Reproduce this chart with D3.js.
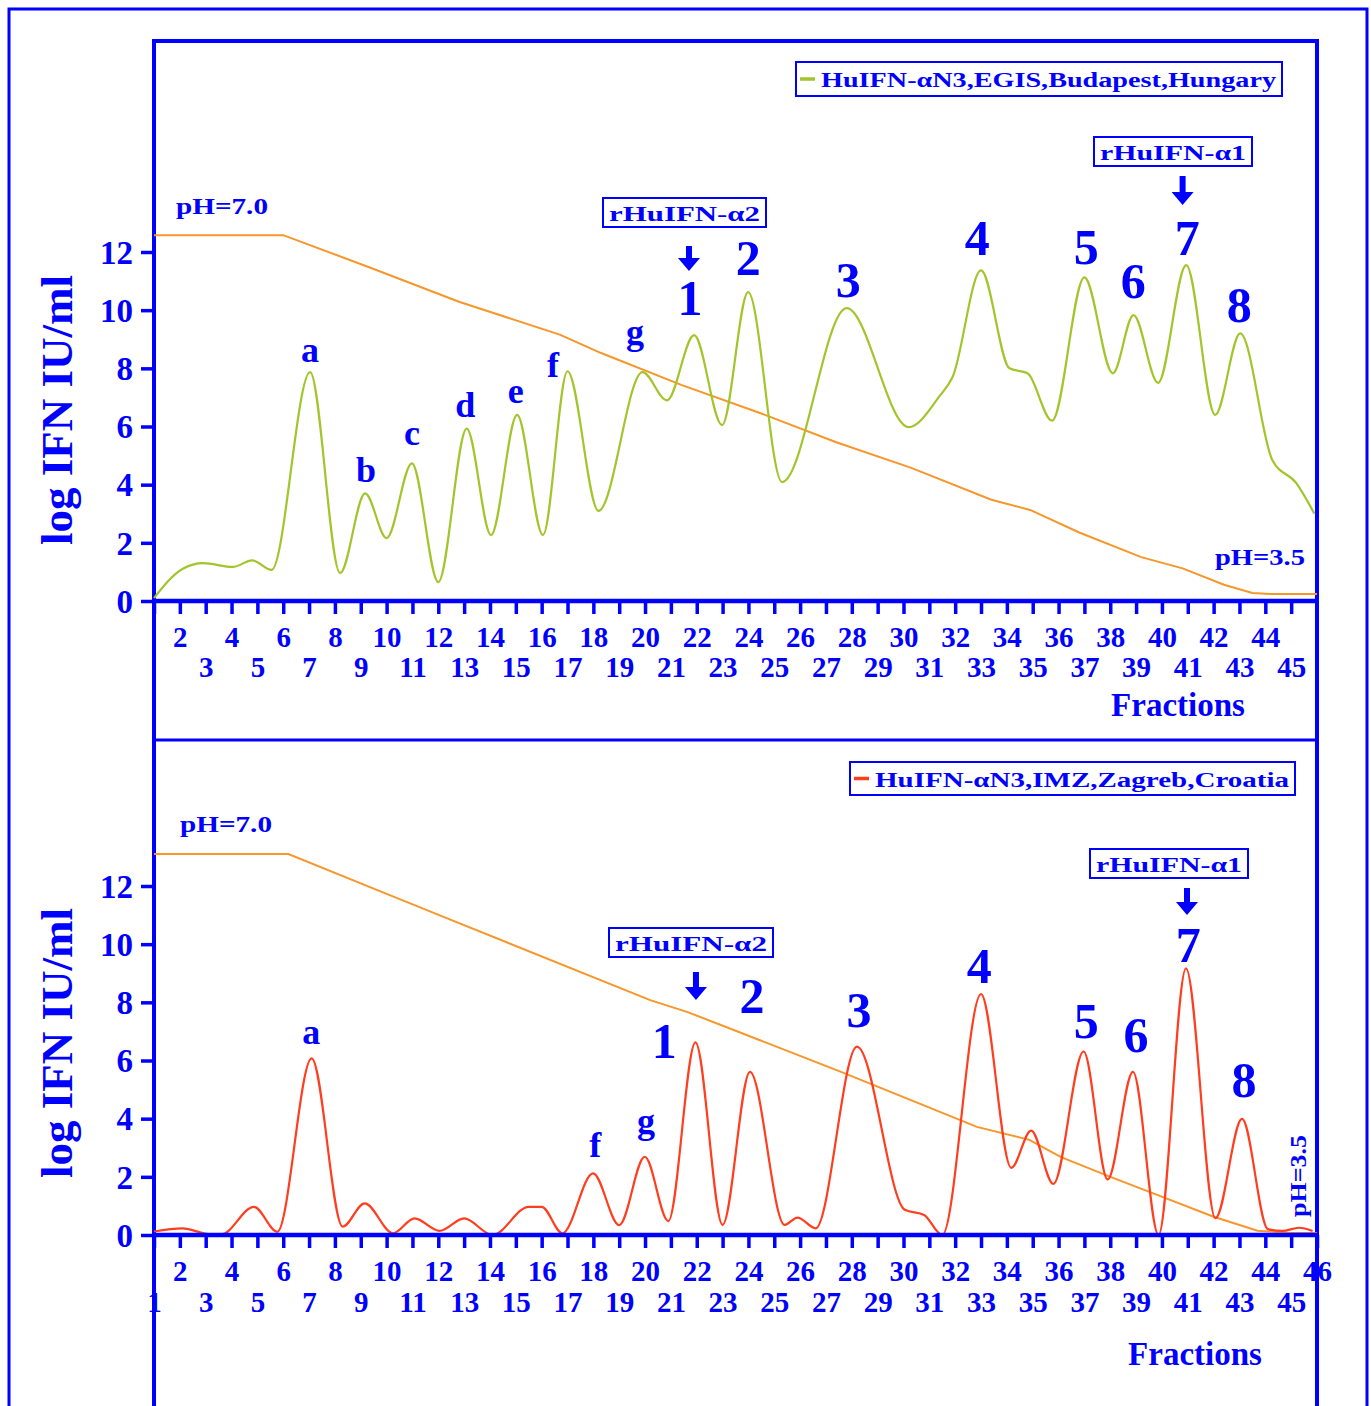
<!DOCTYPE html>
<html>
<head>
<meta charset="utf-8">
<script src="https://cdn.jsdelivr.net/npm/d3@7"></script>
<style>
  body { margin: 0; background: #fff; }
  text { font-family: "Liberation Serif", "Times New Roman", serif; font-weight: bold; fill: #0000ff; }
</style>
</head>
<body>
<div id="chart"></div>
<script>
// ---- data ----
// upper panel: HuIFN-aN3, EGIS
var topFrac = [1, 2.1, 2.9, 4.05, 4.8, 5.55, 7.04, 8.2, 9.17, 10.0, 10.98, 12.0, 13.1, 14.04, 15.05,
  16.05, 17.0, 18.2, 19.9, 20.85, 21.9, 22.98, 23.99, 25.3, 27.8, 30.2, 31.4, 31.9, 33.0, 34.1,
  34.8, 35.75, 37.0, 38.1, 38.9, 39.85, 40.94, 42.06, 43.03, 44.27, 45.2, 45.9];
var topIfn = [0.1, 1.1, 1.3, 1.17, 1.4, 1.07, 7.87, 0.96, 3.7, 2.16, 4.73, 0.65, 5.93, 2.27, 6.4,
  2.27, 7.9, 3.1, 7.87, 6.9, 9.14, 6.05, 10.62, 4.09, 10.07, 5.98, 7.05, 7.7, 11.37, 8.0,
  7.83, 6.2, 11.13, 7.83, 9.83, 7.5, 11.55, 6.4, 9.2, 4.85, 4.05, 3.0];
var topPhFrac = [1, 6, 9.4, 12.8, 16.7, 18.3, 21.4, 24.5, 27.4, 30.3, 33.4, 34.9, 36.8, 39.2, 40.8, 42.4, 43.5, 44.2, 46];
var topPh = [7.0, 7.0, 6.68, 6.35, 6.03, 5.85, 5.54, 5.26, 4.98, 4.73, 4.42, 4.32, 4.10, 3.86, 3.75, 3.59, 3.51, 3.5, 3.5];
var topPeakNames = ["a", "b", "c", "d", "e", "f", "g", "1", "2", "3", "4", "5", "6", "7", "8"];
var topPeakFrac = [7.04, 9.2, 10.98, 13.04, 15.0, 16.44, 19.61, 21.74, 23.99, 27.86, 32.85, 37.07, 38.89, 40.98, 42.99];
var topPeakLevel = [8.21, 4.09, 5.36, 6.32, 6.8, 7.7, 8.83, 9.83, 11.2, 10.45, 11.89, 11.58, 10.41, 11.89, 9.59];

// lower panel: HuIFN-aN3, IMZ
var botFrac = [1, 2.1, 3.2, 3.6, 4.87, 5.77, 7.1, 8.3, 9.15, 10.25, 11.08, 12.05, 13.0, 14.1, 15.5,
  16.0, 16.8, 17.99, 19.0, 19.99, 20.9, 21.95, 23.0, 24.06, 25.4, 25.9, 26.6, 28.2, 30.05, 30.8,
  31.5, 33.0, 34.17, 34.94, 35.8, 36.97, 37.9, 38.88, 39.87, 40.93, 42.07, 43.1, 44.1, 44.66, 45.3, 45.83];
var botIfn = [0.12, 0.23, 0.02, 0.02, 0.97, 0.11, 6.07, 0.29, 1.09, 0.06, 0.57, 0.14, 0.57, 0.0, 0.97,
  0.97, 0.06, 2.12, 0.34, 2.69, 0.48, 6.62, 0.35, 5.61, 0.35, 0.6, 0.23, 6.48, 0.87, 0.69,
  0.0, 8.28, 2.31, 3.59, 1.76, 6.31, 1.91, 5.61, 0.0, 9.17, 0.58, 3.99, 0.2, 0.14, 0.25, 0.14];
var botPhFrac = [1, 6.2, 9.5, 12.3, 20.2, 21.65, 24.45, 27.56, 30.98, 32.84, 34.87, 36.1, 37.98, 39.84, 42.0, 43.7, 45, 46];
var botPh = [7.0, 7.0, 6.68, 6.41, 5.65, 5.54, 5.28, 4.99, 4.66, 4.48, 4.36, 4.20, 4.02, 3.85, 3.65, 3.52, 3.5, 3.5];
var botPeakNames = ["a", "f", "g", "1", "2", "3", "4", "5", "6", "7", "8"];
var botPeakFrac = [7.08, 18.07, 20.04, 20.74, 24.14, 28.28, 32.93, 37.07, 39.0, 41.02, 43.18];
var botPeakLevel = [6.56, 2.68, 3.51, 6.08, 7.63, 7.15, 8.66, 6.77, 6.29, 9.38, 4.74];

var yTicks = [0, 2, 4, 6, 8, 10, 12];
var legendNames = ["HuIFN-\u03b1N3,EGIS,Budapest,Hungary", "HuIFN-\u03b1N3,IMZ,Zagreb,Croatia"];
var markerNames = ["rHuIFN-\u03b12", "rHuIFN-\u03b11"];
var topMarkerFrac = [21.7, 40.8];
var botMarkerFrac = [21.97, 40.97];

var blue = "#0000ff";

var svg = d3.select("#chart")
  .append("svg")
  .attr("width", 1371)
  .attr("height", 1406);

// frames
svg.append("rect").attr("x", 9).attr("y", 9).attr("width", 1358).attr("height", 1420)
  .attr("fill", "none").attr("stroke", blue).attr("stroke-width", 3);
svg.append("rect").attr("x", 154).attr("y", 41).attr("width", 1163).attr("height", 1400)
  .attr("fill", "none").attr("stroke", blue).attr("stroke-width", 4);
svg.append("line").attr("x1", 154).attr("x2", 1317).attr("y1", 740).attr("y2", 740)
  .attr("stroke", blue).attr("stroke-width", 3);

var x = d3.scaleLinear().domain([1, 46]).range([154, 1317]);

function downArrow(cx, y1, y2) {
  svg.append("path")
    .attr("d", "M" + (cx - 3) + "," + y1 + "H" + (cx + 3) + "V" + (y2 - 13) + "H" + (cx + 11) +
      "L" + cx + "," + y2 + "L" + (cx - 11) + "," + (y2 - 13) + "H" + (cx - 3) + "Z")
    .attr("fill", blue);
}

function drawPanel(p) {
  var y = d3.scaleLinear().domain([0, 12]).range([p.y0, p.y12]);
  var ph = d3.scaleLinear().domain([3.5, 7.0]).range([y(p.phLow), y(p.phHigh)]);
  var g = svg.append("g");

  // pH gradient line
  g.append("path")
    .datum(d3.zip(p.phFrac, p.ph))
    .attr("fill", "none")
    .attr("stroke", "#f7962a")
    .attr("stroke-width", 2)
    .attr("d", d3.line().x(function (d) { return x(d[0]); }).y(function (d) { return ph(d[1]); }));

  // activity profile
  g.append("path")
    .datum(d3.zip(p.frac, p.ifn))
    .attr("fill", "none")
    .attr("stroke", p.color)
    .attr("stroke-width", 2.2)
    .attr("d", d3.line().curve(d3.curveMonotoneX)
      .x(function (d) { return x(d[0]); }).y(function (d) { return y(d[1]); }));

  // y axis
  var ya = g.append("g")
    .attr("transform", "translate(154,0)")
    .call(d3.axisLeft(y).tickValues(yTicks).tickSize(13).tickSizeOuter(0).tickPadding(8));
  ya.select(".domain").remove();
  ya.selectAll("line").attr("stroke", blue).attr("stroke-width", 3.5);
  ya.selectAll("text").style("font-size", "33px").attr("fill", blue)
    .attr("font-family", null).attr("dy", "0.34em");

  // x axis, even labels on first row, odd ones on second
  var fr = d3.range(1, p.lastTick + 1);
  var xa = g.append("g")
    .attr("transform", "translate(0," + p.y0 + ")")
    .call(d3.axisBottom(x).tickValues(fr).tickSize(13).tickSizeOuter(0)
      .tickFormat(function (d) { return (d === 1 && !p.showOne) ? "" : d; }));
  xa.select(".domain").attr("stroke", blue).attr("stroke-width", 4.5)
    .attr("d", "M154,0H1317");
  xa.selectAll("line").attr("stroke", blue).attr("stroke-width", 3.5);
  xa.selectAll("text")
    .style("font-size", "29px").attr("fill", blue).attr("font-family", null)
    .attr("dy", null)
    .attr("y", function (d) { return (d % 2 === 0 ? p.evenBase : p.oddBase) - p.y0; });

  // axis titles
  g.append("text")
    .attr("transform", "translate(72," + p.titleY + ") rotate(-90)")
    .attr("text-anchor", "middle")
    .attr("textLength", 270).attr("lengthAdjust", "spacingAndGlyphs")
    .style("font-size", "44px")
    .text("log IFN IU/ml");
  g.append("text")
    .attr("x", p.fracX).attr("y", p.fracY)
    .attr("text-anchor", "middle")
    .style("font-size", "33px")
    .text("Fractions");

  // pH labels
  g.append("text").attr("x", p.ph7[0]).attr("y", p.ph7[1])
    .attr("textLength", 92).attr("lengthAdjust", "spacingAndGlyphs")
    .style("font-size", "23px").text("pH=7.0");
  if (p.ph35Vertical) {
    g.append("text")
      .attr("transform", "translate(" + p.ph35[0] + "," + p.ph35[1] + ") rotate(-90)")
      .attr("textLength", 82).attr("lengthAdjust", "spacingAndGlyphs")
      .style("font-size", "23px").text("pH=3.5");
  } else {
    g.append("text").attr("x", p.ph35[0]).attr("y", p.ph35[1])
      .attr("textLength", 90).attr("lengthAdjust", "spacingAndGlyphs")
      .style("font-size", "23px").text("pH=3.5");
  }

  // peak labels
  g.selectAll(".peak")
    .data(d3.range(p.peakNames.length))
    .enter().append("text")
    .attr("class", "peak")
    .attr("x", function (i) { return x(p.peakFrac[i]); })
    .attr("y", function (i) { return y(p.peakLevel[i]); })
    .attr("text-anchor", "middle")
    .style("font-size", function (i) { return isNaN(+p.peakNames[i]) ? "36px" : "50px"; })
    .text(function (i) { return p.peakNames[i]; });

  // legend
  var L = p.legend;
  g.append("rect").attr("x", L.x).attr("y", L.y).attr("width", L.w).attr("height", L.h)
    .attr("fill", "#fff").attr("stroke", blue).attr("stroke-width", 2);
  g.append("line").attr("x1", L.x + 4).attr("x2", L.x + 19)
    .attr("y1", L.y + L.h / 2).attr("y2", L.y + L.h / 2)
    .attr("stroke", p.color).attr("stroke-width", 3.5);
  g.append("text").attr("x", L.x + 25).attr("y", L.y + 25)
    .attr("textLength", L.w - 31).attr("lengthAdjust", "spacingAndGlyphs")
    .style("font-size", "20px").text(p.legendName);

  // reference markers
  p.markers.forEach(function (m, i) {
    var cx = x(p.markerFrac[i]);
    g.append("rect").attr("x", m.bx).attr("y", m.by).attr("width", m.bw).attr("height", 29)
      .attr("fill", "#fff").attr("stroke", blue).attr("stroke-width", 2);
    g.append("text").attr("x", m.bx + 6).attr("y", m.by + 23)
      .attr("textLength", m.bw - 12).attr("lengthAdjust", "spacingAndGlyphs")
      .style("font-size", "22px").text(markerNames[i]);
    downArrow(cx, m.a1, m.a2);
  });
}

drawPanel({
  y0: 601, y12: 252, phHigh: 12.58, phLow: 0.24,
  frac: topFrac, ifn: topIfn, phFrac: topPhFrac, ph: topPh, color: "#a2c52c",
  lastTick: 45, showOne: false, evenBase: 647, oddBase: 677,
  titleY: 410, fracX: 1178, fracY: 716,
  ph7: [176, 214], ph35: [1215, 565], ph35Vertical: false,
  peakNames: topPeakNames, peakFrac: topPeakFrac, peakLevel: topPeakLevel,
  legend: { x: 796, y: 62, w: 486, h: 34 }, legendName: legendNames[0],
  markerFrac: topMarkerFrac,
  markers: [{ bx: 603, by: 198, bw: 163, a1: 246, a2: 271 },
            { bx: 1094, by: 137, bw: 158, a1: 176, a2: 205 }]
});

drawPanel({
  y0: 1235, y12: 886, phHigh: 13.1, phLow: 0.07,
  frac: botFrac, ifn: botIfn, phFrac: botPhFrac, ph: botPh, color: "#ff3d1f",
  lastTick: 46, showOne: true, evenBase: 1281, oddBase: 1312,
  titleY: 1043, fracX: 1195, fracY: 1365,
  ph7: [180, 832], ph35: [1306, 1217], ph35Vertical: true,
  peakNames: botPeakNames, peakFrac: botPeakFrac, peakLevel: botPeakLevel,
  legend: { x: 850, y: 762, w: 445, h: 33 }, legendName: legendNames[1],
  markerFrac: botMarkerFrac,
  markers: [{ bx: 609, by: 928, bw: 164, a1: 972, a2: 1000 },
            { bx: 1090, by: 849, bw: 158, a1: 888, a2: 915 }]
});
</script>
</body>
</html>
